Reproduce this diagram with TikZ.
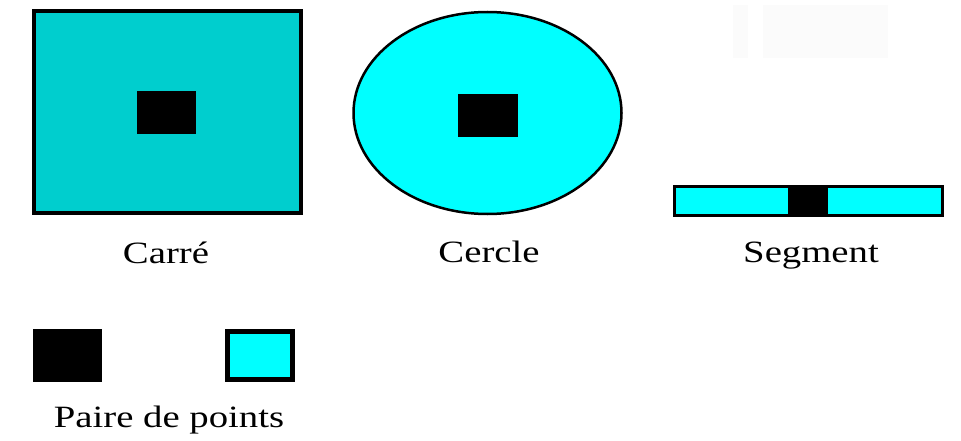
\documentclass[tikz,border=0pt]{standalone}
\usepackage{fontspec}
\setmainfont{Liberation Serif}[FakeStretch=1.25]
\definecolor{darkcyan}{RGB}{0,206,206}
\definecolor{brightcyan}{RGB}{0,255,255}
\definecolor{faint}{RGB}{251,251,251}
\tikzset{
  lbl/.style={anchor=base, inner sep=0pt, font=\fontsize{31}{34}\selectfont},
  hole/.style={fill=black},
}
\begin{document}
\begin{tikzpicture}[x=1pt,y=-1pt]
\useasboundingbox (0,0) rectangle (961,441);
% faint rectangles top right
\fill[faint] (733,5) rectangle (748,58);
\fill[faint] (763,5) rectangle (888,58);
% Carre
\draw[line width=4pt, fill=darkcyan] (34,11) rectangle (301,213);
\fill[hole] (137,91) rectangle (196,134);
\node[lbl] (carre) at (166,263) {Carré};
% Cercle
\draw[line width=2.5pt, fill=brightcyan] (487.5,113) ellipse [x radius=134, y radius=101];
\fill[hole] (458,94) rectangle (518,137);
\node[lbl] (cercle) at (489,262) {Cercle};
% Segment
\draw[line width=3pt, fill=brightcyan] (674.5,186.5) rectangle (942.5,215.5);
\fill[hole] (788,185) rectangle (828,217);
\node[lbl] (segment) at (811,262) {Segment};
% Paire de points
\fill[hole] (33,329) rectangle (102,382);
\draw[line width=5pt, fill=brightcyan] (227.5,331.5) rectangle (292.5,379.5);
\node[lbl] (paire) at (169,427) {Paire de points};
\end{tikzpicture}
\end{document}
